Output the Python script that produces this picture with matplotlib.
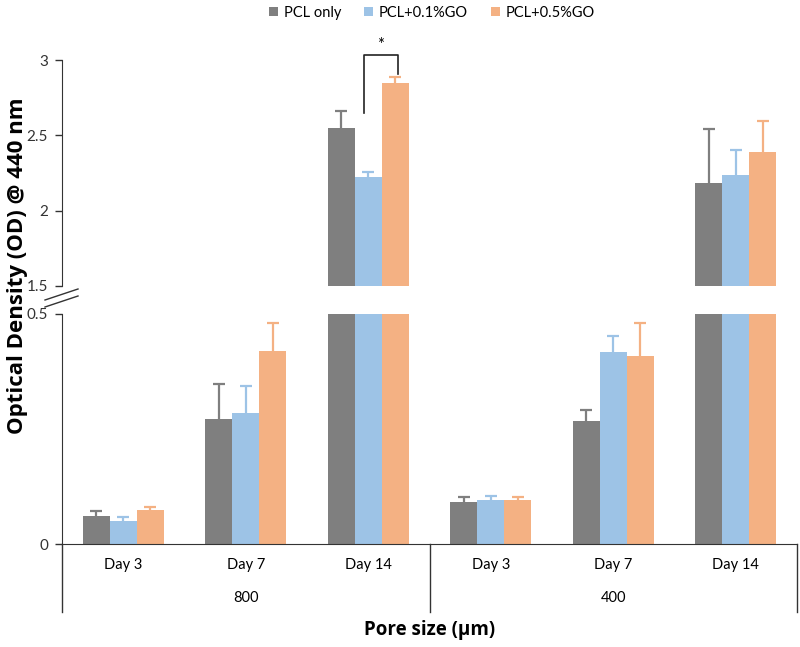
import matplotlib.pyplot as plt
from matplotlib.lines import Line2D
from matplotlib.patches import Patch

plt.rcParams['font.family'] = ['Lato', 'DejaVu Sans']

# data
days = ["Day 3", "Day 7", "Day 14", "Day 3", "Day 7", "Day 14"]
pore_sizes = ["800", "400"]
series_names = ["PCL only", "PCL+0.1%GO", "PCL+0.5%GO"]
pcl_only = [0.061, 0.271, 2.55, 0.092, 0.267, 2.185]
pcl_01go = [0.051, 0.284, 2.225, 0.096, 0.417, 2.235]
pcl_05go = [0.075, 0.420, 2.85, 0.096, 0.409, 2.39]
pcl_only_err = [0.011, 0.077, 0.11, 0.010, 0.024, 0.36]
pcl_01go_err = [0.007, 0.060, 0.033, 0.009, 0.035, 0.165]
pcl_05go_err = [0.006, 0.060, 0.037, 0.006, 0.071, 0.205]

colors = ["#7F7F7F", "#9DC3E6", "#F4B183"]
values = [pcl_only, pcl_01go, pcl_05go]
errors = [pcl_only_err, pcl_01go_err, pcl_05go_err]

W, H = 800, 647
fig = plt.figure(figsize=(8, 6.47), dpi=100)

def fy(py):
    return 1 - py / H

left, right = 62 / W, 797 / W
ax_top = fig.add_axes([left, fy(286), right - left, fy(60) - fy(286)])
ax_bot = fig.add_axes([left, fy(544), right - left, fy(314) - fy(544)])

x = list(range(len(days)))
bw = 0.22
for ax in (ax_top, ax_bot):
    for i in range(3):
        xs = [xi + (i - 1) * bw for xi in x]
        tops = [v + e for v, e in zip(values[i], errors[i])]
        ax.bar(xs, values[i], width=bw, color=colors[i], label=series_names[i])
        # upper-only error bars, cap at the top end only
        ax.vlines(xs, values[i], tops, color=colors[i], lw=1.6)
        ax.plot(xs, tops, ls='none', marker='_', ms=8, mew=1.6, color=colors[i])
    ax.set_xlim(-0.5, 5.5)
    for s in ("top", "right"):
        ax.spines[s].set_visible(False)
    ax.spines["left"].set_color("#333333")
    ax.spines["bottom"].set_color("#333333")
    ax.tick_params(axis='y', direction='out', length=5, width=1, labelsize=11,
                   colors="#333333", pad=5)
    ax.tick_params(axis='x', length=0, labelbottom=False)

ax_top.set_ylim(1.5, 3)
ax_top.set_yticks([1.5, 2, 2.5, 3])
ax_top.set_yticklabels(["1.5", "2", "2.5", "3"])
ax_top.spines["bottom"].set_visible(False)

ax_bot.set_ylim(0, 0.5)
ax_bot.set_yticks([0, 0.5])
ax_bot.set_yticklabels(["0", "0.5"])

# multi-level category axis
line_kw = dict(color="#333333", lw=1, clip_on=False, transform=ax_bot.get_xaxis_transform())
for xv in (-0.5, 2.5, 5.5):
    ax_bot.plot([xv, xv], [0, -0.296], **line_kw)
for xi, d in zip(x, days):
    ax_bot.text(xi, -0.091, d, ha='center', va='center', fontsize=10.5,
                transform=ax_bot.get_xaxis_transform())
for k, p in enumerate(pore_sizes):
    ax_bot.text(1 + 3 * k, -0.235, p, ha='center', va='center', fontsize=10.5,
                transform=ax_bot.get_xaxis_transform())
ax_bot.text(2.5, -0.374, "Pore size (μm)", ha='center', va='center', fontsize=13.5,
            fontweight='bold', family=['Open Sans', 'DejaVu Sans'],
            transform=ax_bot.get_xaxis_transform())

fig.text(18 / W, fy(266), "Optical Density (OD) @ 440 nm", rotation=90,
         ha='center', va='center', fontsize=16, fontweight='bold',
         family=['Open Sans', 'DejaVu Sans'])

# axis break marks
for dy in (0, 7):
    fig.add_artist(Line2D([45 / W, 78 / W], [fy(300 + dy), fy(289 + dy)],
                          color="#333333", lw=1))

# significance bracket
ax_top.plot([1.965, 1.965, 2.243, 2.243], [2.65, 3.03, 3.03, 2.91],
            color="#222222", lw=1.2, clip_on=False)
ax_top.text(2.1, 3.045, "*", ha='center', va='bottom', fontsize=12)

handles = [Patch(facecolor=c, label=n) for c, n in zip(colors, series_names)]
fig.legend(handles=handles, loc='center', bbox_to_anchor=(0.54, fy(13)), ncol=3,
           frameon=False, fontsize=10.5, handlelength=0.6, handleheight=0.6,
           handletextpad=0.4, columnspacing=1.6)

fig.savefig("out.png", dpi=100)
